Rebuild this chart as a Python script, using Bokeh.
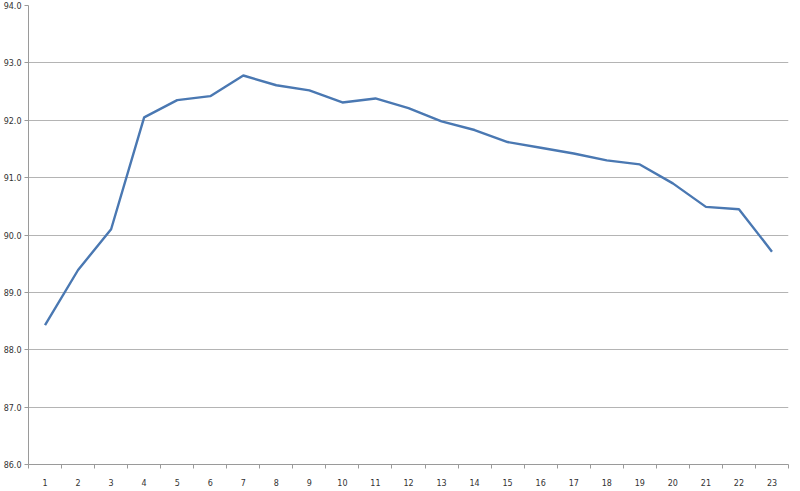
from bokeh.plotting import figure
from bokeh.models import FixedTicker, NumeralTickFormatter, Range1d
from bokeh.embed import file_html
from bokeh.resources import INLINE

categories = list(range(1, 24))
values = [88.43, 89.39, 90.10, 92.05, 92.35, 92.42, 92.78, 92.61, 92.52, 92.31,
          92.38, 92.21, 91.98, 91.83, 91.62, 91.52, 91.42, 91.30, 91.23, 90.90,
          90.49, 90.45, 89.71]
y_ticks = [86, 87, 88, 89, 90, 91, 92, 93, 94]

p = figure(frame_width=760, frame_height=459, output_backend="svg", toolbar_location=None,
           x_range=Range1d(0.5, 23.5), y_range=Range1d(86, 94),
           min_border_top=5, min_border_left=0, min_border_right=3, min_border_bottom=0)
p.outline_line_color = None
p.background_fill_color = "white"
p.border_fill_color = "white"

p.line(categories, values, line_color="#4a78b2", line_width=2.4)

# x axis
p.xaxis.ticker = FixedTicker(ticks=categories, minor_ticks=[c - 0.5 for c in categories] + [23.5])
p.xaxis.major_tick_out = 0
p.xaxis.major_tick_in = 0
p.xaxis.minor_tick_out = 4
p.xaxis.minor_tick_in = 0
p.xaxis.minor_tick_line_color = "#9a9a9a"
p.xaxis.axis_line_color = "#9a9a9a"
p.xaxis.major_label_standoff = 10
p.xaxis.major_label_text_font = "DejaVu Sans"
p.xaxis.major_label_text_font_size = "8px"
p.xaxis.major_label_text_color = "#333333"
p.xgrid.grid_line_color = None

# y axis
p.yaxis.ticker = FixedTicker(ticks=y_ticks)
p.yaxis.formatter = NumeralTickFormatter(format="0.0")
p.yaxis.major_tick_out = 4
p.yaxis.major_tick_in = 0
p.yaxis.minor_tick_line_color = None
p.yaxis.major_tick_line_color = "#9a9a9a"
p.yaxis.axis_line_color = "#9a9a9a"
p.yaxis.major_label_standoff = 3
p.yaxis.major_label_text_font = "DejaVu Sans"
p.yaxis.major_label_text_font_size = "8px"
p.yaxis.major_label_text_color = "#333333"
p.ygrid.grid_line_color = "#b4b4b4"
p.ygrid.grid_line_width = 1

open("out.html", "w").write(file_html(p, INLINE))
